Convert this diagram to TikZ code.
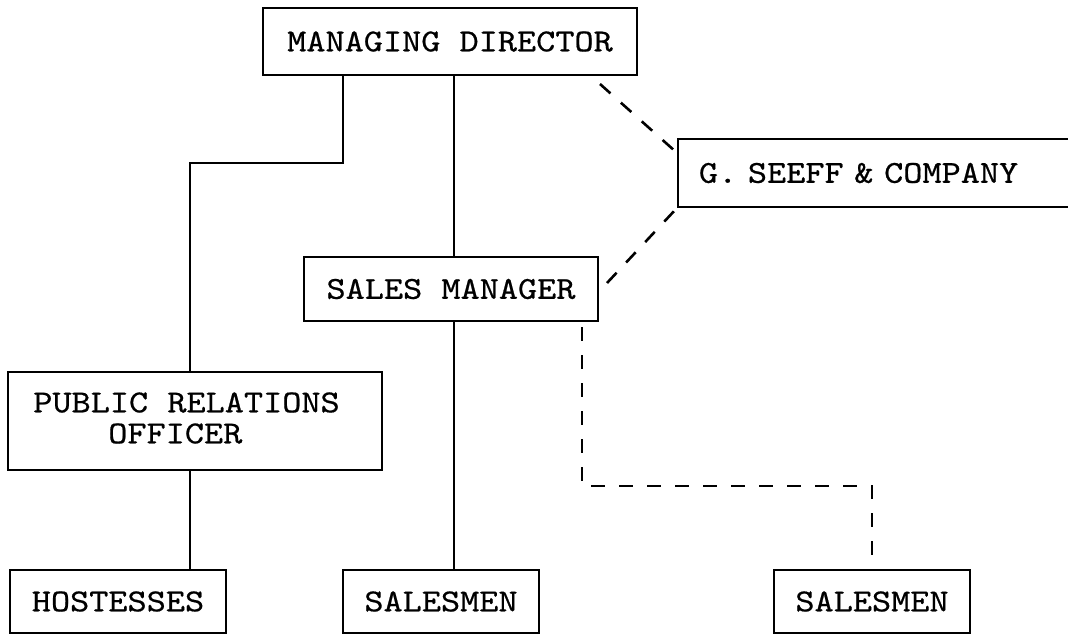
\documentclass[tikz,border=0pt]{standalone}
\usepackage{fontspec}
\newfontfamily\typewriter[FakeStretch=1.14,FakeBold=0.6]{lmmono10-regular.otf}
\newcommand{\typefont}{\typewriter\fontsize{32}{34}\selectfont\frenchspacing}
\begin{document}
\begin{tikzpicture}[x=1pt,y=-1pt,
  box/.style={draw, line width=1.9pt, rectangle, inner sep=0pt, font=\typefont},
  solidline/.style={line width=2.1pt},
  dashline/.style={line width=2.6pt, dash pattern=on 14pt off 14pt}]
  \useasboundingbox (0,0) rectangle (1068,635);
  \clip (0,0) rectangle (1068,635);
  \fill[white] (0,0) rectangle (1068,635);

  % organisation boxes
  \node[box, minimum width=374pt, minimum height=67pt] (md) at (450,41.5) {MANAGING DIRECTOR};
  \node[box, anchor=west, minimum height=68pt, inner xsep=21pt, text width=379pt, align=left]
       (gs) at (677,173) {G. SEEFF \& COMPANY};
  \node[box, minimum width=294pt, minimum height=64pt] (sm) at (451,289) {SALES MANAGER};
  \node[box, minimum width=374pt, minimum height=98pt] (pro) at (195,421)
       {\begin{tabular}{@{}l@{\hspace{17pt}}}PUBLIC RELATIONS\\[-3pt]\hspace{75pt}OFFICER\end{tabular}};
  \node[box, minimum width=216pt, minimum height=63pt] (host) at (118,601.5) {HOSTESSES};
  \node[box, minimum width=196pt, minimum height=63pt] (salA) at (441,601.5) {SALESMEN};
  \node[box, minimum width=196pt, minimum height=63pt] (salB) at (872,601.5) {SALESMEN};

  % routing points
  \coordinate (jogR) at (343,163);
  \coordinate (jogL) at (190,163);
  \coordinate (mid) at (454,0);
  \coordinate (mdGs) at (600,84);
  \coordinate (gsTop) at (676,152);
  \coordinate (smGs) at (607,283);
  \coordinate (smDash) at (582,327);
  \coordinate (dashCorner) at (582,486);
  \coordinate (dashRight) at (872,486);
  \coordinate (salDashEnd) at (872,560);

  % line authority
  \draw[solidline] (md.south -| jogR) -- (jogR) -- (jogL) -- (pro.north -| jogL);
  \draw[solidline] (md.south -| mid) -- (sm.north -| mid);
  \draw[solidline] (sm.south -| mid) -- (salA.north -| mid);
  \draw[solidline] (pro.south -| jogL) -- (host.north -| jogL);

  % advisory / agency links
  \draw[dashline] (mdGs) -- (gsTop);
  \draw[dashline] (smGs) -- (gs.south west);
  \draw[dashline] (smDash) -- (dashCorner) -- (dashRight) -- (salDashEnd);
\end{tikzpicture}
\end{document}
